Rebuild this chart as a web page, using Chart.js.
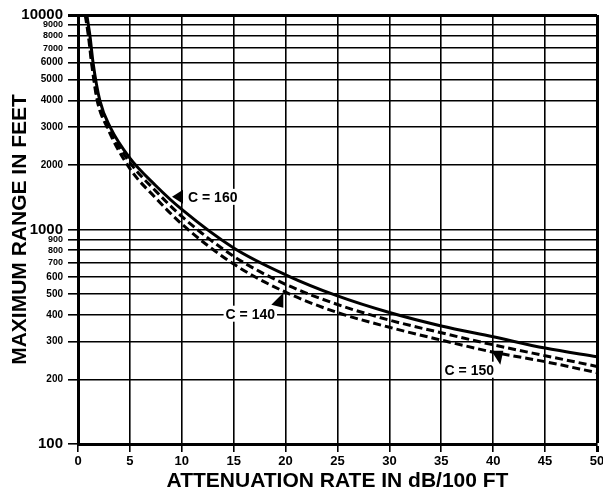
<!DOCTYPE html>
<html>
<head>
<meta charset="utf-8">
<script src="https://cdn.jsdelivr.net/npm/chart.js@4"></script>
<style>
  html, body { margin: 0; padding: 0; background: #fff; }
  #wrap { width: 603px; height: 497px; position: relative; }
</style>
</head>
<body>
<div id="wrap"><canvas id="rangeChart"></canvas></div>
<script>
// values
const xC160 = [0.85, 1.15, 1.45, 2.1, 3.1, 5, 7.5, 10, 15, 20, 25, 30, 35, 40, 45, 50];
const yC160 = [10000, 8000, 6000, 4000, 3000, 2150, 1600, 1240, 820, 615, 490, 410, 355, 316, 280, 255];

const xC150 = [0.75, 1.05, 1.35, 1.9, 2.9, 5, 7.5, 10, 15, 20, 25, 30, 35, 40, 45, 50];
const yC150 = [10000, 8000, 6000, 4000, 3000, 2050, 1510, 1150, 750, 555, 447, 378, 330, 290, 258, 230];

const xC140 = [0.7, 1.0, 1.3, 1.85, 2.8, 5, 7.5, 10, 15, 20, 25, 30, 35, 40, 45, 50];
const yC140 = [10000, 8000, 6000, 4000, 3000, 1920, 1400, 1060, 690, 510, 410, 350, 305, 268, 242, 215];

const yTicks = [100, 200, 300, 400, 500, 600, 700, 800, 900,
                1000, 2000, 3000, 4000, 5000, 6000, 7000, 8000, 9000, 10000];
const bigTicks = [100, 1000, 10000];
const smallTicks = [700, 800, 900, 7000, 8000, 9000];

const curveLabels = [
    { text: 'C = 160', x: 10.6, y: 1420, align: 'left', tri: [[-5, -7], [-5, 7], [-16, 0]] },
    { text: 'C = 140', x: 16.6, y: 405, align: 'center', tri: [[33, -21], [33, -6], [21, -9]] },
    { text: 'C = 150', x: 37.7, y: 222, align: 'center', tri: [[22, -19], [34, -19], [31, -5]] }
];

const FONT = '"Liberation Sans", Arial, sans-serif';

function toPoints(xs, ys) {
    return xs.map((x, i) => ({ x: x, y: ys[i] }));
}

const decorations = {
    id: 'decorations',
    afterDatasetsDraw(chart) {
        const ctx = chart.ctx;
        const xs = chart.scales.x, ys = chart.scales.y;
        ctx.save();
        ctx.font = 'bold 14px ' + FONT;
        ctx.textBaseline = 'middle';
        curveLabels.forEach(l => {
            const px = xs.getPixelForValue(l.x);
            const py = ys.getPixelForValue(l.y);
            const w = ctx.measureText(l.text).width;
            const left = l.align === 'center' ? px - w / 2 : px;
            ctx.fillStyle = '#fff';
            ctx.fillRect(left - 2, py - 8, w + 4, 16);
            ctx.fillStyle = '#000';
            ctx.textAlign = 'left';
            ctx.fillText(l.text, left, py + 1);
            ctx.beginPath();
            ctx.moveTo(px + l.tri[0][0], py + l.tri[0][1]);
            ctx.lineTo(px + l.tri[1][0], py + l.tri[1][1]);
            ctx.lineTo(px + l.tri[2][0], py + l.tri[2][1]);
            ctx.closePath();
            ctx.fill();
        });
        ctx.restore();
    },
    afterDraw(chart) {
        const ctx = chart.ctx;
        const a = chart.chartArea;
        ctx.save();
        ctx.fillStyle = '#000';
        ctx.font = 'bold 21px ' + FONT;
        ctx.textAlign = 'center';
        ctx.textBaseline = 'middle';
        ctx.fillText('ATTENUATION RATE IN dB/100 FT', (a.left + a.right) / 2, 481);
        ctx.translate(20, (a.top + a.bottom) / 2);
        ctx.rotate(-Math.PI / 2);
        ctx.fillText('MAXIMUM RANGE IN FEET', 0, 0);
        ctx.restore();
    }
};

new Chart(document.getElementById('rangeChart'), {
    type: 'line',
    data: {
        datasets: [
            { label: 'C = 160', data: toPoints(xC160, yC160), borderColor: '#000', borderWidth: 3 },
            { label: 'C = 150', data: toPoints(xC150, yC150), borderColor: '#000', borderWidth: 3, borderDash: [8, 4] },
            { label: 'C = 140', data: toPoints(xC140, yC140), borderColor: '#000', borderWidth: 3, borderDash: [8, 4] }
        ]
    },
    options: {
        responsive: true,
        maintainAspectRatio: false,
        animation: false,
        layout: { padding: { top: 15, right: 6, left: 0, bottom: 0 } },
        elements: {
            point: { radius: 0 },
            line: { cubicInterpolationMode: 'monotone', fill: false }
        },
        plugins: { legend: { display: false }, tooltip: { enabled: false } },
        scales: {
            x: {
                type: 'linear',
                min: 0,
                max: 50,
                afterFit(scale) {
                    scale.height = 53;
                    scale.paddingLeft = 0;
                    scale.paddingRight = 0;
                },
                ticks: {
                    stepSize: 5,
                    color: '#000',
                    padding: 2,
                    maxRotation: 0,
                    font: { family: FONT, size: 13, weight: 'bold' }
                },
                grid: {
                    color: '#000',
                    lineWidth: (c) => (c.tick && c.tick.value === 50 ? 3 : 1.6),
                    tickLength: 8
                },
                border: { color: '#000', width: 3 }
            },
            y: {
                type: 'logarithmic',
                min: 100,
                max: 10000,
                afterFit(scale) {
                    scale.width = 78;
                    scale.paddingTop = 0;
                    scale.paddingBottom = 0;
                },
                afterBuildTicks(scale) {
                    scale.ticks = yTicks.map(v => ({ value: v }));
                },
                ticks: {
                    color: '#000',
                    padding: 5,
                    autoSkip: false,
                    callback: (v) => String(v),
                    font: (c) => {
                        const v = c.tick ? c.tick.value : 0;
                        if (bigTicks.includes(v)) return { family: FONT, size: 15, weight: 'bold' };
                        if (smallTicks.includes(v)) return { family: FONT, size: 9, weight: 'bold' };
                        return { family: FONT, size: 10, weight: 'bold' };
                    }
                },
                grid: {
                    color: '#000',
                    lineWidth: (c) => {
                        const v = c.tick ? c.tick.value : 0;
                        if (v === 10000) return 3;
                        return 1.6;
                    },
                    tickLength: 10
                },
                border: { color: '#000', width: 3 }
            }
        }
    },
    plugins: [decorations]
});
</script>
</body>
</html>
